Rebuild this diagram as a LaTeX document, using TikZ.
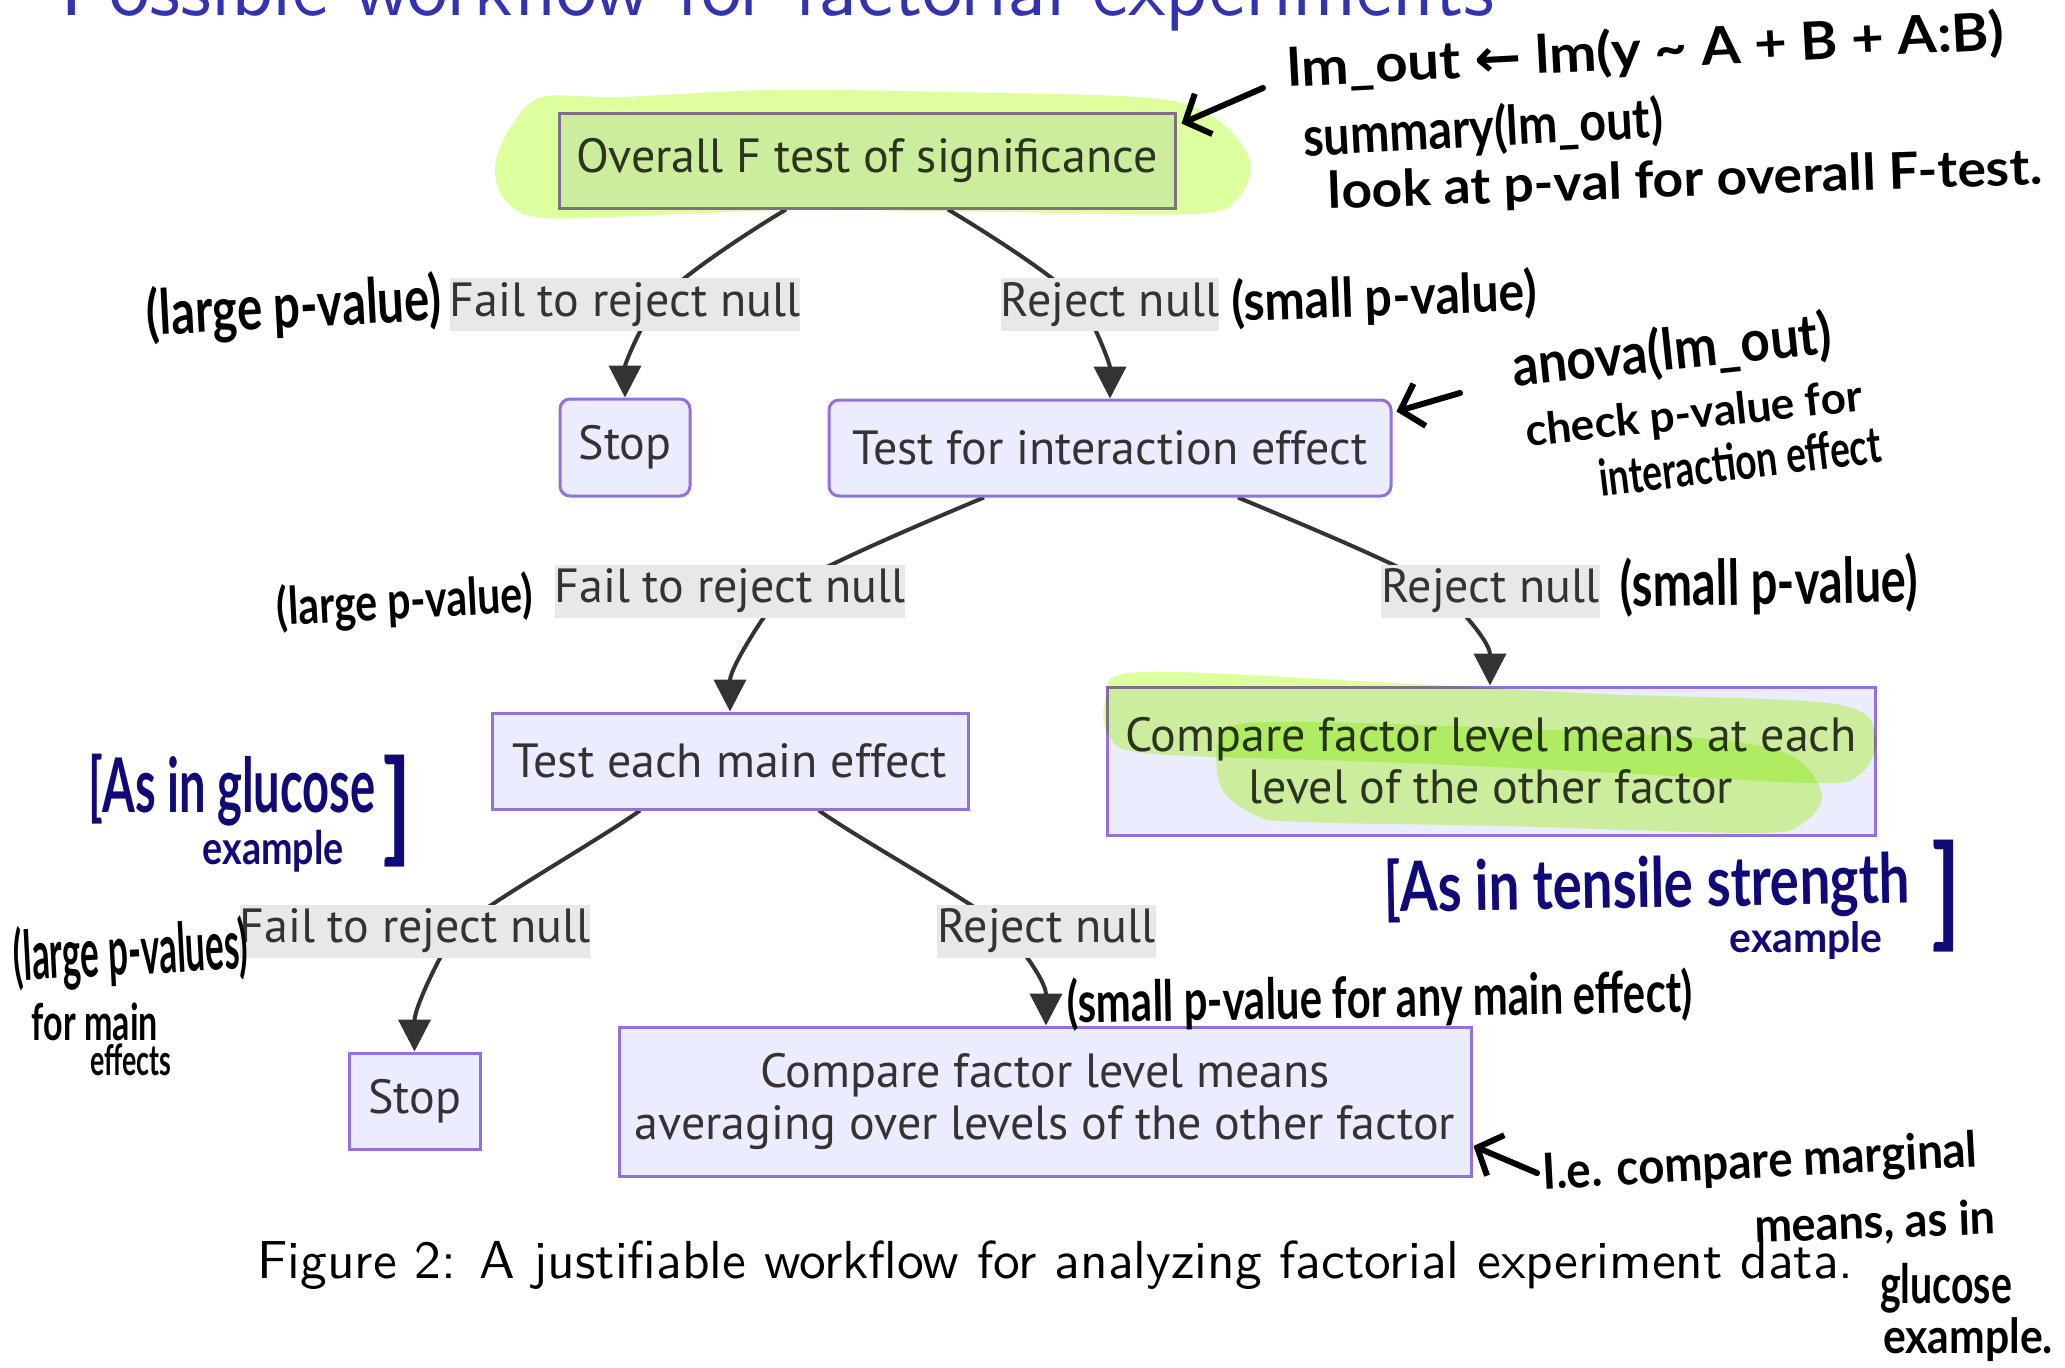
\documentclass[tikz,border=0pt]{standalone}
\usepackage{fontspec}
\usepackage{graphicx}
\newfontfamily\mmfont{PT Sans}
\newfontfamily\hand{Lato}
\newfontfamily\djv{DejaVu Sans}
\usetikzlibrary{arrows.meta,calc}
\definecolor{mmfill}{HTML}{ECECFF}
\definecolor{mmborder}{HTML}{9370DB}
\definecolor{mmtext}{HTML}{333333}
\definecolor{mmlabel}{HTML}{E8E8E8}
\definecolor{hl}{HTML}{DDFF9E}
\definecolor{titleblue}{rgb}{0.2,0.2,0.7}
\definecolor{inkblue}{RGB}{15,10,120}
\pgfdeclarelayer{background}
\pgfsetlayers{background,main}
\newcommand\nodesize{\fontsize{48pt}{52pt}\selectfont}
\newcommand\hwtext[3]{\resizebox*{#1}{#2}{\hand\bfseries #3}}
\tikzset{
  box/.style={draw=mmborder, fill=mmfill, line width=3pt, text=mmtext,
    font=\mmfont\nodesize, inner sep=0pt, align=center},
  rbox/.style={box, rounded corners=10pt},
  lbl/.style={fill=mmlabel, text=mmtext, font=\mmfont\nodesize, inner sep=0pt,
    minimum height=53pt},
  edge/.style={draw=mmedge, line width=4pt, -{Triangle[length=32pt,width=32pt]}},
  hw/.style={inner sep=0pt, text=black},
  hwb/.style={inner sep=0pt, text=inkblue},
  harrow/.style={draw=black, line width=6pt, line cap=round,
    -{Straight Barb[length=20pt,width=44pt,line width=6pt]}},
}
\colorlet{mmedge}{mmtext}
\begin{document}
\begin{tikzpicture}[x=1pt,y=-1pt]
\useasboundingbox (0,0) rectangle (2065,1368);
\clip (0,0) rectangle (2065,1368);

% title (cut off at top)
\node[anchor=base west, inner sep=0pt, text=titleblue] (title) at (60,15)
  {\resizebox{1434pt}{!}{\sffamily Possible workflow for factorial experiments}};

% flowchart nodes
\node[box, minimum width=616pt, minimum height=95pt] (overall) at (867,160.5) {Overall F test of significance};
\node[rbox, minimum width=130pt, minimum height=97pt] (stop1) at (625,447.5) {Stop};
\node[rbox, minimum width=562pt, minimum height=96pt] (inter) at (1110,448) {Test for interaction effect};
\node[box, minimum width=476pt, minimum height=96pt] (main) at (730,761) {Test each main effect};
\node[box, minimum width=768pt, minimum height=148pt] (cmpeach) at (1491,761) {Compare factor level means at each\\level of the other factor};
\node[box, minimum width=131pt, minimum height=96pt] (stop2) at (414.5,1101) {Stop};
\node[box, minimum width=852pt, minimum height=149pt] (cmp2) at (1045,1101.5) {Compare factor level means\\averaging over levels of the other factor};

% edge labels
\node[lbl, minimum width=350pt] (lab1) at (625,304.5) {Fail to reject null};
\node[lbl, minimum width=216pt] (lab2) at (1110,304.5) {Reject null};
\node[lbl, minimum width=350pt] (lab3) at (730,591) {Fail to reject null};
\node[lbl, minimum width=216pt] (lab4) at (1490.5,591) {Reject null};
\node[lbl, minimum width=350pt] (lab5) at (415,931) {Fail to reject null};
\node[lbl, minimum width=216pt] (lab6) at (1046.5,931) {Reject null};

% edges
\begin{pgfonlayer}{background}
\draw[edge] ([xshift=-81pt]overall.south) .. controls +(-45,27) and +(18,-23) .. ([xshift=31pt]lab1.center)
  .. controls +(-12,15) and +(0,-35) .. (stop1.north);
\draw[edge] ([xshift=81pt]overall.south) .. controls +(45,27) and +(-18,-23) .. ([xshift=-29pt]lab2.center)
  .. controls +(12,15) and +(0,-35) .. (inter.north);
\draw[edge] ([xshift=-126pt]inter.south) .. controls +(-55,23) and +(25,-20) .. ([xshift=54.5pt]lab3.center)
  .. controls +(-12,10) and +(0,-45) .. (main.north);
\draw[edge] ([xshift=128pt]inter.south) .. controls +(55,23) and +(-25,-20) .. ([xshift=-49.5pt]lab4.center)
  .. controls +(12,10) and +(0,-45) .. ([xshift=-1pt]cmpeach.north);
\draw[edge] ([xshift=-90pt]main.south) .. controls +(-40,29) and +(20,-22) .. ([xshift=42pt]lab5.center)
  .. controls +(-12,13) and +(0,-45) .. (stop2.north);
\draw[edge] ([xshift=89pt]main.south) .. controls +(40,29) and +(-20,-22) .. ([xshift=-40.5pt]lab6.center)
  .. controls +(12,13) and +(0,-45) .. ([xshift=1pt]cmp2.north);
\end{pgfonlayer}

% highlighter strokes
\begin{scope}[blend mode=multiply]
\fill[hl] plot[smooth cycle, tension=0.55] coordinates {(542,97) (620,97) (772,90) (950,92) (1150,98)
  (1215,118) (1250,160) (1238,198) (1195,214) (1000,212) (800,210) (680,214) (545,218) (505,200) (495,165) (512,125)};
\fill[hl] plot[smooth cycle, tension=0.55] coordinates {(1140,672) (1396,683) (1600,694) (1835,704) (1876,738)
  (1858,776) (1810,783) (1600,772) (1380,762) (1155,754) (1110,738) (1106,698)};
\fill[hl] plot[smooth cycle, tension=0.55] coordinates {(1225,730) (1300,722) (1500,728) (1700,738) (1790,755)
  (1822,795) (1800,825) (1750,833) (1500,826) (1300,822) (1255,815) (1220,785)};
\end{scope}

% handwritten annotations
\coordinate (t0) at (1263,88);
\draw[harrow] (t0) -- ([shift={(5,12)}]overall.north east);
\node[hw, rotate=3] (a1) at (1646,52) {\hwtext{717pt}{50pt}{lm\_out {\djv ←} lm(y \textasciitilde{} A + B + A:B)}};
\node[hw, rotate=3] (a2) at (1483,130) {\hwtext{360pt}{52pt}{summary(lm\_out)}};
\node[hw, rotate=2] (a3) at (1685,182) {\hwtext{714pt}{46pt}{look at p-val for overall F-test.}};
\node[hw, rotate=3] (a4) at (294,309) {\hwtext{295pt}{60pt}{(large p-value)}};
\node[hw, rotate=2] (a5) at (1384,299) {\hwtext{305pt}{52pt}{(small p-value)}};
\coordinate (t1) at (1460,393);
\draw[harrow] (t1) -- ([shift={(4,13)}]inter.north east);
\node[hw, rotate=6] (a7) at (1672,352) {\hwtext{321pt}{54pt}{anova(lm\_out)}};
\node[hw, rotate=6] (a8) at (1694,416) {\hwtext{338pt}{40pt}{check p-value for}};
\node[hw, rotate=7] (a9) at (1740,461) {\hwtext{284pt}{38pt}{interaction effect}};
\node[hw, rotate=3] (a10) at (405,603) {\hwtext{256pt}{50pt}{(large p-value)}};
\node[hw, rotate=1] (a11) at (1769,585) {\hwtext{298pt}{60pt}{(small p-value)}};
\node[hwb] (a12) at (232,790) {\hwtext{287pt}{72pt}{[As in glucose}};
\node[hwb] (a12b) at (273,851) {\hwtext{141pt}{42pt}{example}};
\node[hwb] (a12c) at (397,811) {\resizebox*{30pt}{112pt}{\hand\bfseries ]}};
\node[hw, rotate=3] (a13) at (131,954) {\hwtext{235pt}{66pt}{(large p-values)}};
\node[hw] (a14) at (95,1022) {\hwtext{126pt}{38pt}{for main}};
\node[hw] (a15) at (131,1060) {\hwtext{81pt}{32pt}{effects}};
\node[hw, rotate=1] (a16) at (1380,1000) {\hwtext{625pt}{54pt}{(small p-value for any main effect)}};
\node[hwb, rotate=1] (a17) at (1647,887) {\hwtext{526pt}{66pt}{[As in tensile strength}};
\node[hwb] (a17b) at (1806,940) {\hwtext{153pt}{38pt}{example}};
\node[hwb] (a17c) at (1946,896) {\resizebox*{30pt}{112pt}{\hand\bfseries ]}};
\coordinate (t2) at (1537,1173);
\draw[harrow] (t2) -- ([shift={(1,44.5)}]cmp2.east);
\node[hw, rotate=3] (a19) at (1760,1164) {\hwtext{435pt}{46pt}{I.e. compare marginal}};
\node[hw, rotate=2] (a20) at (1875,1224) {\hwtext{241pt}{42pt}{means, as in}};
\node[hw] (a21) at (1946,1288) {\hwtext{132pt}{50pt}{glucose}};
\node[hw] (a22) at (1968,1340) {\hwtext{170pt}{44pt}{example.}};

% caption
\node[anchor=base west, inner sep=0pt, text=black] (caption) at (257,1278)
  {\resizebox{1596pt}{!}{\sffamily Figure 2: A justifiable workflow for analyzing factorial experiment data.}};
\end{tikzpicture}
\end{document}
